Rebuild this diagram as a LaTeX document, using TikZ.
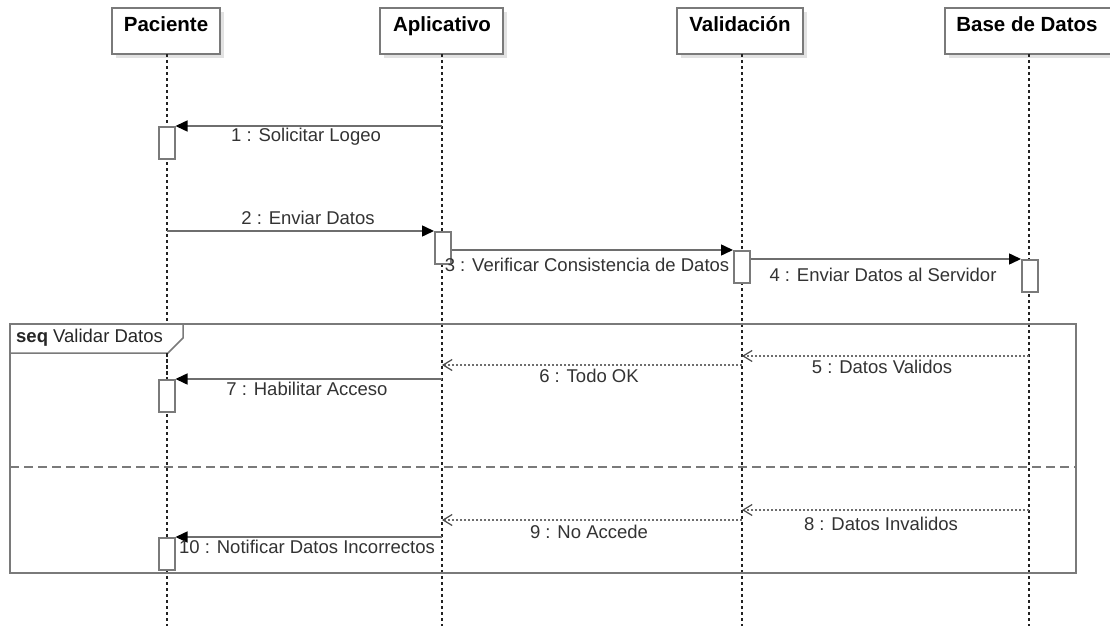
\documentclass[tikz,border=0pt]{standalone}
\usepackage{fontspec}
\setmainfont{Liberation Sans}
\usetikzlibrary{arrows.meta}
\definecolor{linegray}{HTML}{6E6E6E}
\definecolor{boxgray}{HTML}{7A7A7A}
\definecolor{shadowgray}{HTML}{E2E2E2}
\definecolor{txtgray}{HTML}{333333}
\definecolor{lifegray}{HTML}{222222}
\definecolor{barbgray}{HTML}{4A4A4A}
\tikzset{
  head/.style={draw=boxgray, line width=1.5pt, fill=white, minimum height=46pt, inner sep=0pt},
  headtxt/.style={font=\fontsize{20.5}{24}\selectfont\bfseries, text=black, inner sep=0pt, anchor=base},
  life/.style={draw=lifegray, line width=1.1pt, dash pattern=on 3pt off 3pt},
  act/.style={draw=boxgray, line width=1.5pt, fill=white, minimum width=16pt, minimum height=32pt, inner sep=0pt},
  msg/.style={draw=linegray, line width=1.5pt, -{Triangle[length=12pt,width=11pt,black]}},
  ret/.style={draw=linegray, line width=1.3pt, dash pattern=on 2pt off 2pt, -{Straight Barb[length=9pt,width=11pt,line width=1.2pt,barbgray]}},
  lbl/.style={font=\fontsize{18.5}{22}\selectfont, text=txtgray, inner sep=0pt},
  frameline/.style={draw=boxgray, line width=1.5pt}
}
\begin{document}
\begin{tikzpicture}[x=1pt,y=-1pt]
\path[use as bounding box, clip] (0,0) rectangle (1110,626);
\fill[white] (0,0) rectangle (1110,626);
% header shadows
\foreach \l/\r in {112/220,380/503,677/803,945/1113}
  \fill[shadowgray] (\l+4,12) rectangle (\r+4,58);
% headers
\node[head, minimum width=108pt] (pac) at (166,31) {};
\node[head, minimum width=123pt] (app) at (441.5,31) {};
\node[head, minimum width=126pt] (val) at (740,31) {};
\node[head, minimum width=168pt] (bd) at (1029,31) {};
\node[headtxt] (pact) at (166,32) {Paciente};
\node[headtxt] (appt) at (442,32) {Aplicativo};
\node[headtxt] (valt) at (740,32) {Validación};
\node[headtxt] (bdt) at (1027,32) {Base de Datos};
% lifelines
\coordinate (pend) at (167,626);
\coordinate (aend) at (442,626);
\coordinate (vend) at (742,626);
\coordinate (bend) at (1029,626);
\draw[life] (167,54) -- (pend);
\draw[life] (442,54) -- (aend);
\draw[life] (742,54) -- (vend);
\draw[life] (1029,54) -- (bend);
% frame
\draw[frameline] (10,324) rectangle (1076,573);
\draw[frameline, fill=white] (10,324) -- (183,324) -- (183,338) -- (168,353) -- (10,353) -- cycle;
\node[lbl, text=black!85, anchor=west] (seq) at (16,338) {\textbf{seq} Validar Datos};
\draw[draw=boxgray, line width=1.3pt, dash pattern=on 9pt off 5pt] (10,467) -- (1076,467);
% redraw lifeline over frame tab
\draw[life] (167,353) -- (167,379);
% activations
\node[act, anchor=north west] (p1) at (158,126) {};
\node[act, anchor=north west] (a2) at (434,231) {};
\node[act, anchor=north west] (v3) at (733,250) {};
\node[act, anchor=north west] (b4) at (1021,259) {};
\node[act, anchor=north west] (p7) at (158,379) {};
\node[act, anchor=north west] (p10) at (158,537) {};
% coordinates for message ends
\coordinate (m1s) at (442,126);
\coordinate (m2s) at (167,231);
\coordinate (m5s) at (1029,356);
\coordinate (m5e) at (742,356);
\coordinate (m6s) at (742,365);
\coordinate (m6e) at (442,365);
\coordinate (m7s) at (442,379);
\coordinate (m8s) at (1029,510);
\coordinate (m8e) at (742,510);
\coordinate (m9s) at (742,520);
\coordinate (m9e) at (442,520);
\coordinate (m10s) at (442,537);
% messages
\draw[msg] (m1s) -- (p1.north east);
\draw[msg] (m2s) -- (a2.north west);
\draw[msg] (a2.east |- 0,250) -- (v3.north west);
\draw[msg] (v3.east |- 0,259) -- (b4.north west);
\draw[ret] (m5s) -- (m5e);
\draw[ret] (m6s) -- (m6e);
\draw[msg] (m7s) -- (p7.north east);
\draw[ret] (m8s) -- (m8e);
\draw[ret] (m9s) -- (m9e);
\draw[msg] (m10s) -- (p10.north east);
% labels
\node[lbl] (l1) at (306,137) {1 : Solicitar Logeo};
\node[lbl] (l2) at (308,218) {2 : Enviar Datos};
\node[lbl] (l3) at (587,265) {3 : Verificar Consistencia de Datos};
\node[lbl] (l4) at (883,275) {4 : Enviar Datos al Servidor};
\node[lbl] (l5) at (882,367) {5 : Datos Validos};
\node[lbl] (l6) at (589,376) {6 : Todo OK};
\node[lbl] (l7) at (307,389) {7 : Habilitar Acceso};
\node[lbl] (l8) at (881,524) {8 : Datos Invalidos};
\node[lbl] (l9) at (589,532) {9 : No Accede};
\node[lbl] (l10) at (307,547) {10 : Notificar Datos Incorrectos};
\end{tikzpicture}
\end{document}
